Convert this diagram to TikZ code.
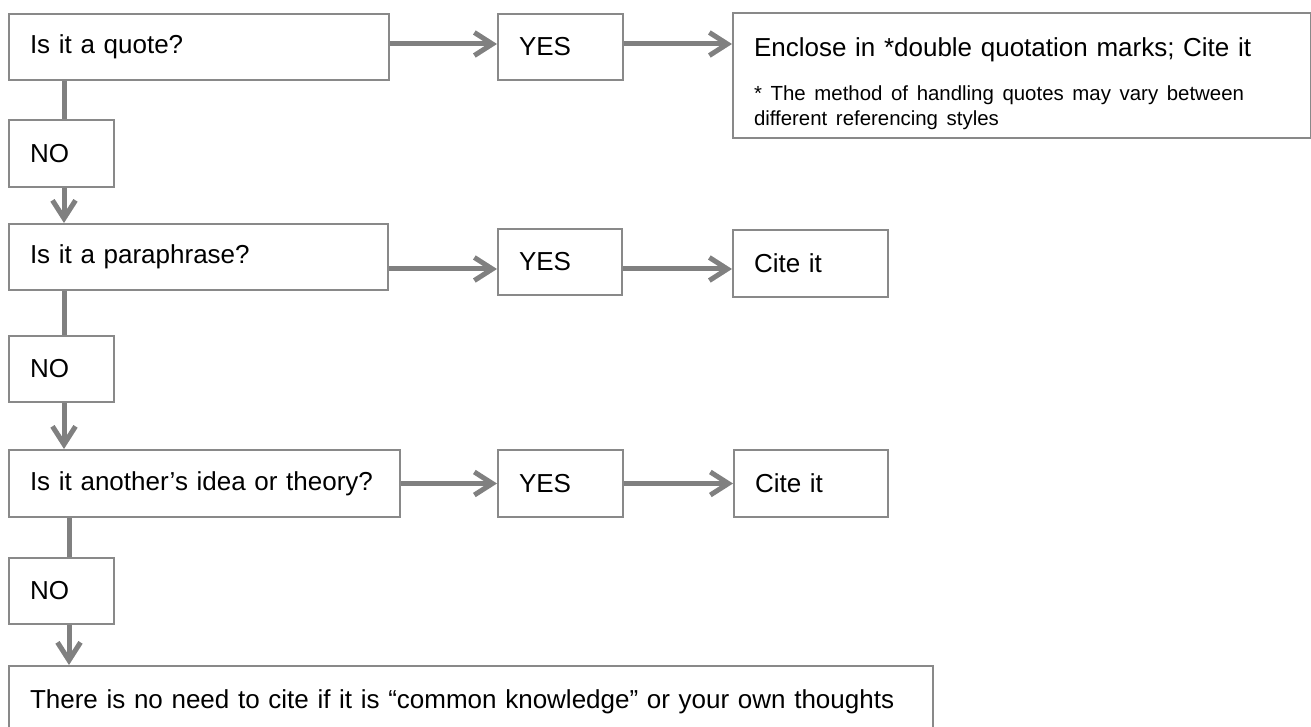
\documentclass[tikz,border=0pt]{standalone}
\usepackage{fontspec}
\setmainfont{Liberation Sans}
\usetikzlibrary{arrows.meta}
\definecolor{boxgray}{HTML}{898989}
\definecolor{linkgray}{HTML}{808080}
\tikzset{
  qbox/.style={draw=boxgray, line width=1pt, anchor=north west, inner xsep=10.5pt,
    inner ysep=0pt, align=left, font=\fontsize{13}{16}\selectfont},
  link/.style={draw=linkgray, line width=2.5pt, -{Straight Barb[length=9pt,width=11.5pt]}},
}
\begin{document}
\begin{tikzpicture}[x=0.5pt, y=-0.5pt]
      \useasboundingbox (0,0) rectangle (1311,727);
      \clip (0,0) rectangle (1311,727);
      % questions and answers
      \node[qbox, text width=169pt, minimum height=33pt] (quote) at (8,13) {Is it a quote?};
      \node[qbox, text width=41.5pt, minimum height=33pt] (yes1) at (497,13) {YES};
      \node[qbox, text width=268pt, minimum height=62.5pt] (encl) at (732,12)
        {\rule{0pt}{18pt}Enclose in *double quotation marks; Cite it\par\vspace{9.5pt}
         {\fontsize{10.2}{12.5}\selectfont\raggedright * The method of handling quotes may vary between\newline
          different referencing styles\par}};
      \node[qbox, text width=31.5pt, minimum height=33.5pt] (no1) at (8,119) {NO};
      \node[qbox, text width=168.5pt, minimum height=33pt] (para) at (8,223) {Is it a paraphrase?};
      \node[qbox, text width=41pt, minimum height=33pt] (yes2) at (497,228) {YES};
      \node[qbox, text width=56.5pt, minimum height=33.5pt] (cite2) at (732,229) {Cite it};
      \node[qbox, text width=31.5pt, minimum height=33pt] (no2) at (8,335) {NO};
      \node[qbox, text width=174.5pt, minimum height=33.5pt] (idea) at (8,449) {Is it another’s idea or theory?};
      \node[qbox, text width=41.5pt, minimum height=33.5pt] (yes3) at (497,449) {YES};
      \node[qbox, text width=56pt, minimum height=33.5pt] (cite3) at (733,449) {Cite it};
      \node[qbox, text width=31.5pt, minimum height=33pt] (no3) at (8,557) {NO};
      \node[qbox, text width=441pt, minimum height=36pt] (common) at (8,665)
        {There is no need to cite if it is “common knowledge” or your own thoughts};
      \begin{scope}[link]
        \draw ([yshift=1.5pt]quote.east) to ([yshift=1.5pt]quote.east -| yes1.west);
        \draw ([yshift=1.5pt]yes1.east) to ([yshift=1.5pt]yes1.east -| encl.west);
        \draw ([yshift=-6pt]para.east) to ([yshift=-6pt]para.east -| yes2.west);
        \draw ([yshift=-3.5pt]yes2.east) to ([yshift=-3.5pt]yes2.east -| cite2.west);
        \draw (idea.east) to (idea.east -| yes3.west);
        \draw (yes3.east) to (yes3.east -| cite3.west);
        \draw[-] ([xshift=1.25pt]quote.south -| no1.north) to ([xshift=1.25pt]no1.north);
        \draw ([xshift=1.25pt]no1.south) to ([xshift=1.25pt]no1.south |- para.north);
        \draw[-] ([xshift=1.25pt]para.south -| no2.north) to ([xshift=1.25pt]no2.north);
        \draw ([xshift=1.25pt]no2.south) to ([xshift=1.25pt]no2.south |- idea.north);
        \draw[-] ([xshift=3.75pt]idea.south -| no3.north) to ([xshift=3.75pt]no3.north);
        \draw ([xshift=3.75pt]no3.south) to ([xshift=3.75pt]no3.south |- common.north);
      \end{scope}
    \end{tikzpicture}
\end{document}
